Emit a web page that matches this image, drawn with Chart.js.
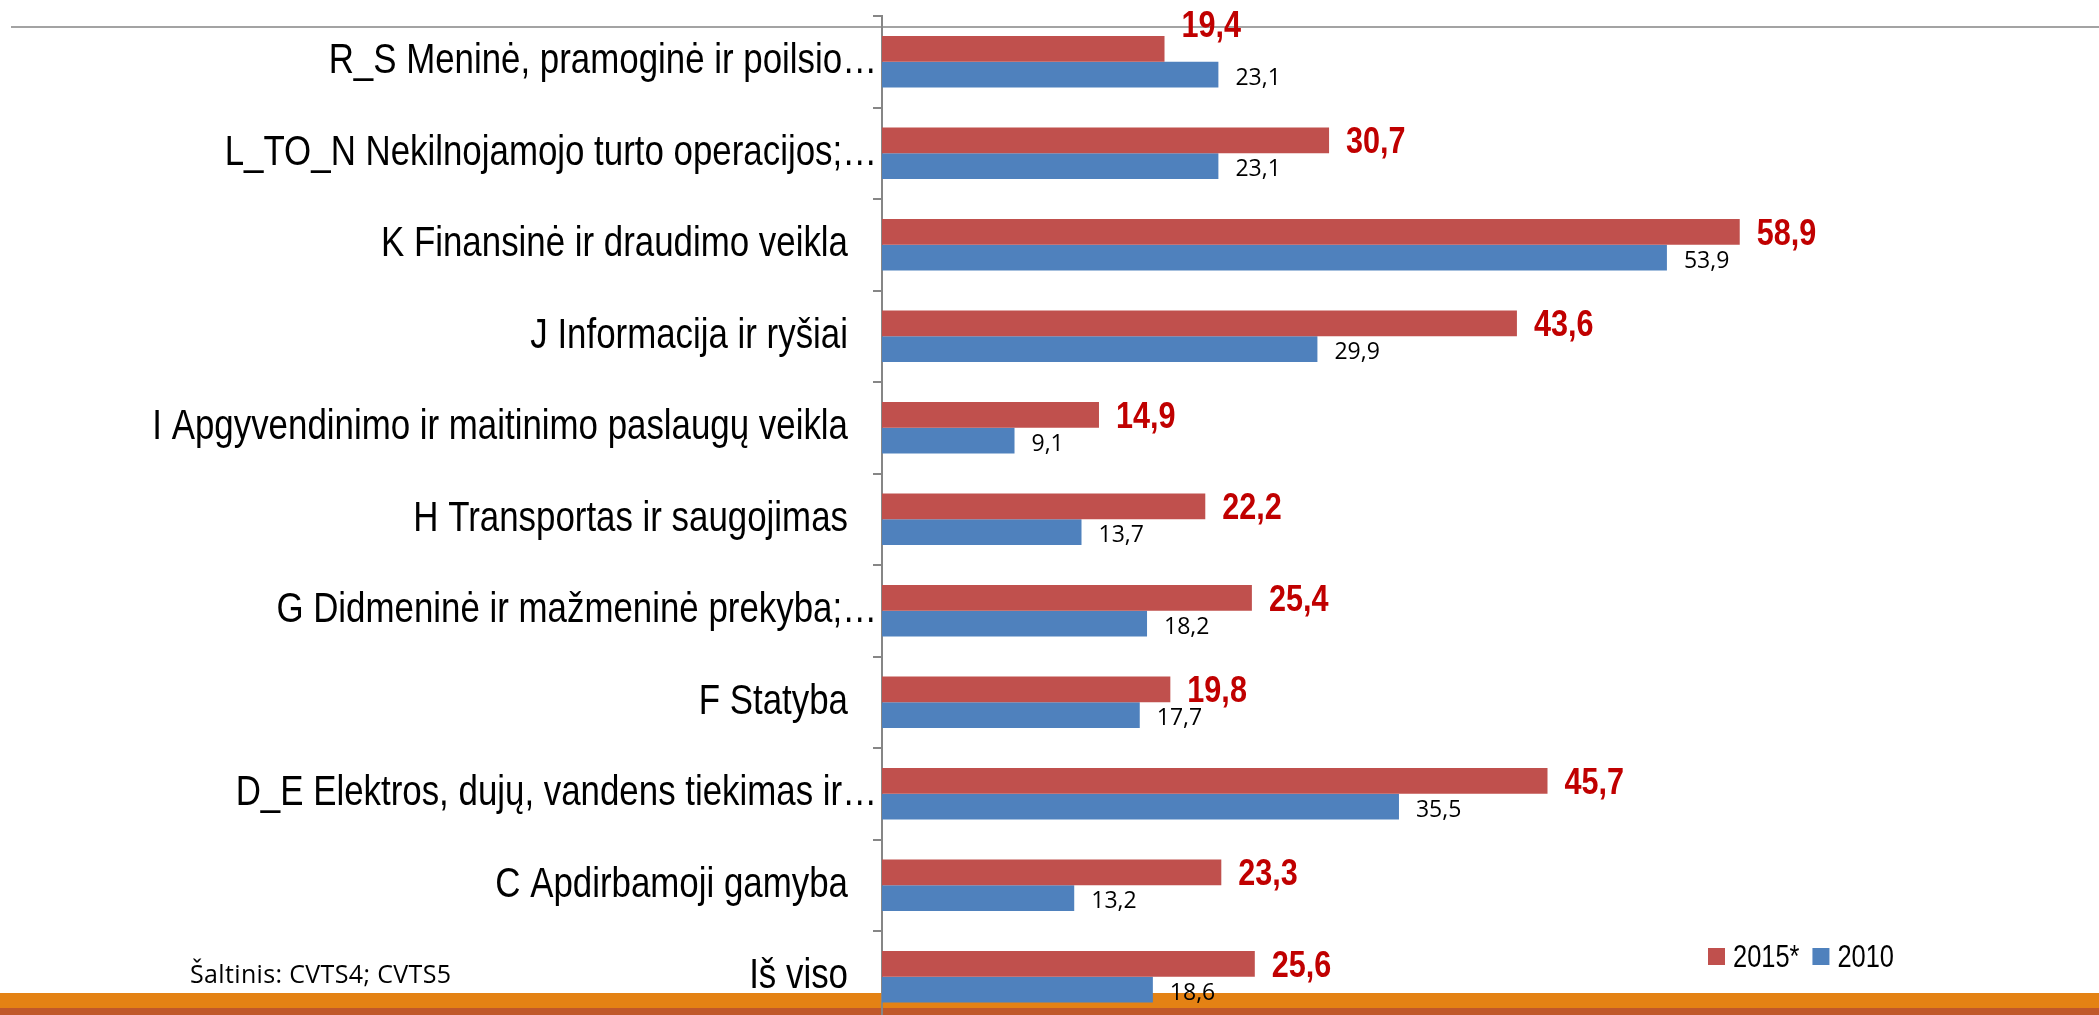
<!DOCTYPE html>
<html>
<head>
<meta charset="utf-8">
<script src="https://cdn.jsdelivr.net/npm/chart.js@4"></script>
<style>
html,body{margin:0;padding:0;background:#fff;overflow:hidden;width:2099px;height:1015px}
canvas{display:block}
</style>
</head>
<body>
<canvas id="c" width="2099" height="1040" style="width:2099px;height:1040px"></canvas>
<script>
const categories = [
  'R_S Meninė, pramoginė ir poilsio…',
  'L_TO_N Nekilnojamojo turto operacijos;…',
  'K Finansinė ir draudimo veikla',
  'J Informacija ir ryšiai',
  'I Apgyvendinimo ir maitinimo paslaugų veikla',
  'H Transportas ir saugojimas',
  'G Didmeninė ir mažmeninė prekyba;…',
  'F Statyba',
  'D_E Elektros, dujų, vandens tiekimas ir…',
  'C Apdirbamoji gamyba',
  'Iš viso'
];
const values2015 = [19.4, 30.7, 58.9, 43.6, 14.9, 22.2, 25.4, 19.8, 45.7, 23.3, 25.6];
const values2010 = [23.1, 23.1, 53.9, 29.9, 9.1, 13.7, 18.2, 17.7, 35.5, 13.2, 18.6];
const seriesLabels = ['2015*', '2010'];
const sourceText = 'Šaltinis: CVTS4; CVTS5';

const RED = '#C0504D', BLUE = '#4F81BD', AXIS = '#868686';
const SANS = '"Liberation Sans", Arial, sans-serif';
const NARROW_K = 0.83; // emulate a narrow face by horizontal compression
const LABEL_RIGHT = 877;
const fmt = v => v.toFixed(1).replace('.', ',');

function drawNarrow(ctx, text, x, y, k) {
  ctx.save();
  ctx.translate(x, 0);
  ctx.scale(k, 1);
  ctx.fillText(text, 0, y);
  ctx.restore();
}

class NarrowCategoryScale extends Chart.CategoryScale {
  drawLabels(chartArea) {
    const ctx = this.ctx;
    ctx.save();
    ctx.translate(LABEL_RIGHT, 0);
    ctx.scale(NARROW_K, 1);
    ctx.translate(-LABEL_RIGHT, 0);
    super.drawLabels(chartArea);
    ctx.restore();
  }
}
NarrowCategoryScale.id = 'narrowCategory';
NarrowCategoryScale.defaults = Chart.CategoryScale.defaults;
Chart.register(NarrowCategoryScale);

const backgroundPlugin = {
  id: 'bg',
  beforeDraw(chart) {
    const ctx = chart.ctx;
    ctx.save();
    ctx.fillStyle = '#ffffff';
    ctx.fillRect(0, 0, chart.width, chart.height);
    ctx.strokeStyle = '#a3a3a3';
    ctx.lineWidth = 2;
    ctx.beginPath();
    ctx.moveTo(11, 27);
    ctx.lineTo(chart.width, 27);
    ctx.stroke();
    ctx.fillStyle = 'rgb(228,130,20)';
    ctx.fillRect(0, 993, chart.width, 15);
    ctx.fillStyle = 'rgb(192,88,42)';
    ctx.fillRect(0, 1008, chart.width, chart.height - 1008);
    ctx.restore();
  }
};

const valueLabelPlugin = {
  id: 'valueLabels',
  afterDatasetsDraw(chart) {
    const ctx = chart.ctx;
    ctx.save();
    chart.data.datasets.forEach((ds, di) => {
      const meta = chart.getDatasetMeta(di);
      meta.data.forEach((bar, i) => {
        const v = ds.data[i];
        ctx.textAlign = 'left';
        ctx.textBaseline = 'alphabetic';
        if (di === 0) {
          const size = 36;
          ctx.font = 'bold ' + size + 'px ' + SANS;
          ctx.fillStyle = '#C00000';
          const nudge = (i === 0) ? -25 : 0;
          drawNarrow(ctx, fmt(v), bar.x + 17, bar.y + nudge + size * 0.716 / 2, 0.85);
        } else {
          const size = 23;
          ctx.font = size + 'px "Open Sans", "Noto Sans", sans-serif';
          ctx.fillStyle = '#000000';
          ctx.fillText(fmt(v), bar.x + 17, bar.y + 2 + size * 0.714 / 2);
        }
      });
    });
    ctx.restore();
  },
  afterDraw(chart) {
    const ctx = chart.ctx;
    ctx.save();
    // legend
    let x = 1708;
    ctx.font = '31px ' + SANS;
    ctx.textBaseline = 'alphabetic';
    ctx.textAlign = 'left';
    chart.data.datasets.forEach((ds) => {
      ctx.fillStyle = ds.backgroundColor;
      ctx.fillRect(x, 948, 17, 17);
      x += 25;
      ctx.fillStyle = '#000';
      drawNarrow(ctx, ds.label, x, 967, 0.82);
      x += ctx.measureText(ds.label).width * 0.82 + 13;
    });
    // source
    ctx.font = '25px "Open Sans", "Noto Sans", sans-serif';
    try { ctx.letterSpacing = '0.35px'; } catch (e) {}
    ctx.fillStyle = '#000';
    ctx.fillText(sourceText, 190, 983);
    ctx.restore();
  }
};

new Chart(document.getElementById('c'), {
  type: 'bar',
  data: {
    labels: categories,
    datasets: [
      { label: seriesLabels[0], data: values2015, backgroundColor: RED, borderWidth: 0 },
      { label: seriesLabels[1], data: values2010, backgroundColor: BLUE, borderWidth: 0 }
    ]
  },
  options: {
    indexAxis: 'y',
    responsive: false,
    animation: false,
    devicePixelRatio: 1,
    categoryPercentage: 0.564,
    barPercentage: 1,
    layout: { padding: { top: 16, bottom: 17.5, right: 52, left: 0 } },
    plugins: { legend: { display: false }, tooltip: { enabled: false } },
    scales: {
      x: { display: false, min: 0, max: 80 },
      y: {
        type: 'narrowCategory',
        offset: true,
        afterFit: s => { s.width = 882; s.paddingTop = 0; s.paddingBottom = 0; },
        border: { display: true, color: AXIS, width: 2 },
        grid: { display: true, drawOnChartArea: false, drawTicks: true, tickLength: 9, color: AXIS, lineWidth: 2, offset: true },
        ticks: {
          padding: -4,
          color: '#000',
          font: { family: SANS, size: 42 },
          autoSkip: false,
          callback: function(value) {
            const lab = this.getLabelForValue(value);
            return lab.endsWith('…') ? lab : lab + '\u00a0\u00a0\u00a0';
          }
        }
      }
    }
  },
  plugins: [backgroundPlugin, valueLabelPlugin]
});
</script>
</body>
</html>
